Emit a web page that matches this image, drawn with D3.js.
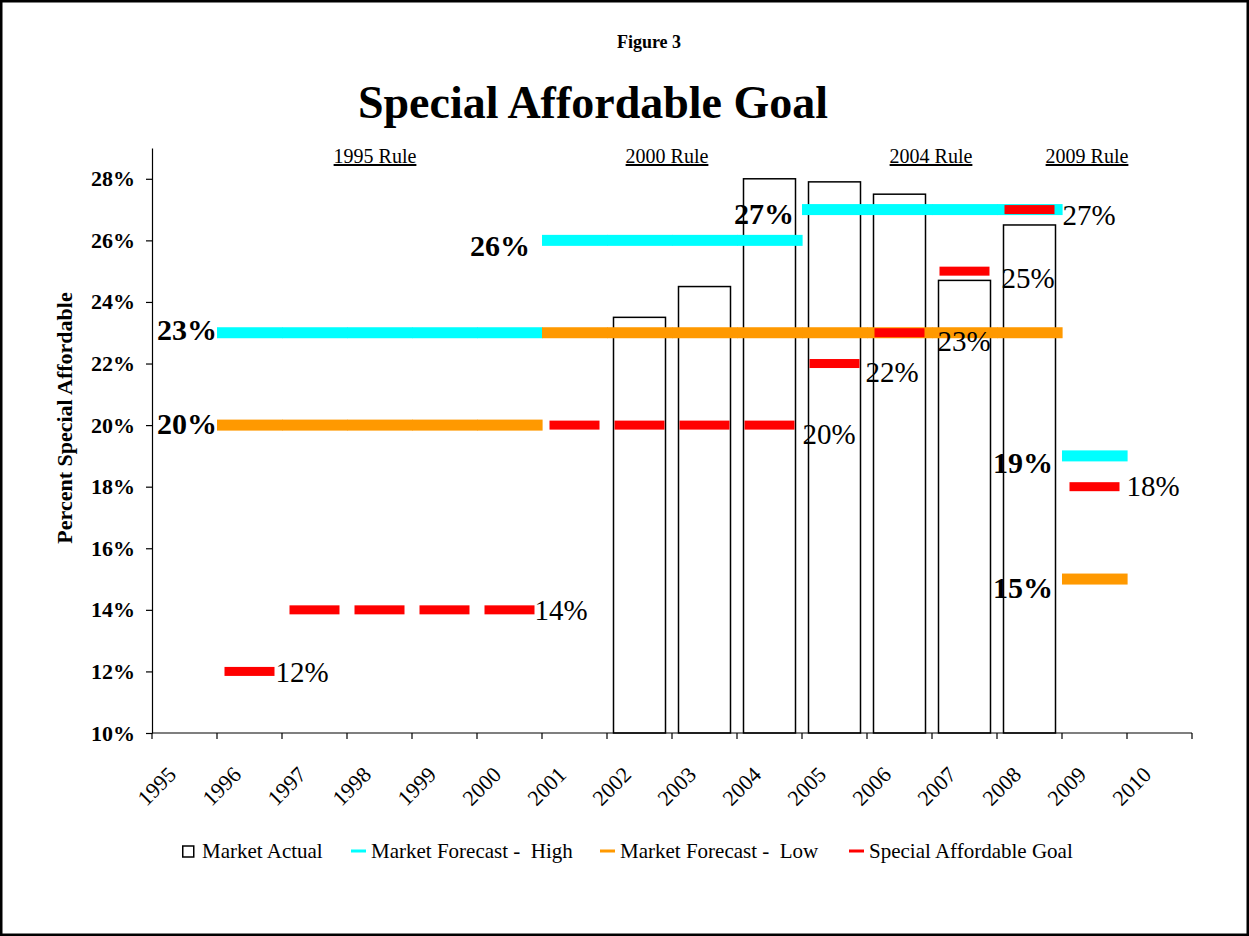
<!DOCTYPE html>
<html>
<head>
<meta charset="utf-8">
<script src="https://cdn.jsdelivr.net/npm/d3@7/dist/d3.min.js"></script>
<style>
  html, body { margin: 0; padding: 0; background: #fff; }
  svg { display: block; }
  text { font-family: "Liberation Serif", "Times New Roman", serif; fill: #000; }
</style>
</head>
<body>
<svg id="chart" width="1249" height="936"></svg>
<script>
// ---------------- DATA ----------------
const years = ["1995","1996","1997","1998","1999","2000","2001","2002","2003","2004","2005","2006","2007","2008","2009","2010"];
const marketActual = [null,null,null,null,null,null,null,23.5,24.5,28.0,27.9,27.5,24.7,26.5,null,null];
const forecastHigh = [null,23,23,23,23,23,26,26,26,26,27,27,27,27,19,null];
const forecastLow  = [null,20,20,20,20,20,23,23,23,23,23,23,23,23,15,null];
const goal         = [null,12,14,14,14,14,20,20,20,20,22,23,25,27,18,null];
const yTicks = [10,12,14,16,18,20,22,24,26,28];
const ruleLabels = ["1995 Rule","2000 Rule","2004 Rule","2009 Rule"];
const ruleYears  = ["1998","2002","2006","2009"];
const highLabelYears = ["1996","2001","2005","2009"];
const lowLabelYears  = ["1996","2009"];
const goalLabelYears = ["1996","2000","2004","2005","2006","2007","2008","2009"];
const legendNames = ["Market Actual","Market Forecast -  High","Market Forecast -  Low","Special Affordable Goal"];

// ---------------- LAYOUT ----------------
const W = 1249, H = 936;
const plot = {left: 152, right: 1192, top: 148, bottom: 733};
const colors = {high: "#00FFFF", low: "#FF9900", goal: "#FF0000"};
const highLabelOffsets = [[0,-3],[-12,5],[-8,4],[-9,7]];
const lowLabelOffsets  = [[0,-2],[-9,8]];
const goalLabelOffsets = [[26,1],[25,0],[33,9],[31,8],[38,8],[37,7],[33,5],[32,-1]];
const ruleOffsets = [-4.5, 27.5, 31.5, -7.5];

const svg = d3.select("#chart");
svg.append("rect").attr("x",1.25).attr("y",1.25).attr("width",W-2.5).attr("height",H-2.5)
  .attr("fill","#fff").attr("stroke","#000").attr("stroke-width",2.5);

const x = d3.scaleBand().domain(years).range([plot.left, plot.right]).padding(0);
const y = d3.scaleLinear().domain([10,29]).range([plot.bottom, plot.top]);
const bw = x.bandwidth();

// Titles
svg.append("text").attr("x",649).attr("y",48).attr("text-anchor","middle")
  .style("font-weight","bold").style("font-size","18px").text("Figure 3");
svg.append("text").attr("x",593).attr("y",118).attr("text-anchor","middle")
  .style("font-weight","bold").style("font-size","46px").text("Special Affordable Goal");

// Y axis title
svg.append("text").attr("transform","translate(72,418) rotate(-90)").attr("text-anchor","middle")
  .style("font-weight","bold").style("font-size","22px").text("Percent Special Affordable");

// Rule labels
svg.append("g").selectAll("text").data(ruleLabels).join("text")
  .attr("x",(d,i)=>x(ruleYears[i]) + bw/2 + ruleOffsets[i])
  .attr("y",163).attr("text-anchor","middle")
  .style("font-size","20px").style("text-decoration","underline").text(d=>d);

// Bars (market actual)
const barW = bw*0.8;
svg.append("g").selectAll("rect").data(years.map((yr,i)=>({yr, v: marketActual[i]})).filter(d=>d.v!=null))
  .join("rect")
  .attr("x",d=>x(d.yr)+(bw-barW)/2).attr("y",d=>y(d.v))
  .attr("width",barW).attr("height",d=>y(10)-y(d.v))
  .attr("fill","#fff").attr("stroke","#000").attr("stroke-width",1.5);

// Forecast bands (continuous per category)
function drawBand(values, color, thick) {
  svg.append("g").selectAll("rect").data(years.map((yr,i)=>({yr, v: values[i]})).filter(d=>d.v!=null))
    .join("rect")
    .attr("x",d=>x(d.yr)).attr("y",d=>y(d.v)-thick/2)
    .attr("width",bw+0.6).attr("height",thick).attr("fill",color);
}
drawBand(forecastHigh, colors.high, 11);
drawBand(forecastLow, colors.low, 11);

// Goal dashes
const dashW = 50;
svg.append("g").selectAll("rect").data(years.map((yr,i)=>({yr, v: goal[i]})).filter(d=>d.v!=null))
  .join("rect")
  .attr("x",d=>x(d.yr)+bw/2-dashW/2).attr("y",d=>y(d.v)-4.5)
  .attr("width",dashW).attr("height",9).attr("fill",colors.goal);

// Axes
const yAxis = d3.axisLeft(y).tickValues(yTicks).tickFormat(d=>d+"%").tickSize(6).tickSizeOuter(0).tickPadding(11);
const gy = svg.append("g").attr("transform",`translate(${plot.left},0)`).call(yAxis);
gy.selectAll("text").style("font-family","'Liberation Serif', serif").style("font-weight","bold").style("font-size","22px").attr("fill","#000");
gy.selectAll("line,path").attr("stroke","#000").attr("stroke-width",1.2);

const gx = svg.append("g");
gx.append("line").attr("x1",plot.left).attr("x2",plot.right).attr("y1",plot.bottom).attr("y2",plot.bottom)
  .attr("stroke","#000").attr("stroke-width",1.2);
gx.selectAll("line.tick").data(years.concat(["end"])).join("line").attr("class","tick")
  .attr("x1",d=>d==="end"?plot.right:x(d)).attr("x2",d=>d==="end"?plot.right:x(d))
  .attr("y1",plot.bottom).attr("y2",plot.bottom+6).attr("stroke","#000").attr("stroke-width",1.2);
gx.selectAll("text").data(years).join("text")
  .attr("transform",d=>`translate(${x(d)+bw/2-7},776) rotate(-45)`)
  .attr("text-anchor","end").style("font-size","22px").text(d=>d);

// Labels
function valAt(arr, yr){ return arr[years.indexOf(yr)]; }
const lab = svg.append("g");
highLabelYears.forEach((yr,i)=>{
  const v = valAt(forecastHigh, yr);
  lab.append("text").attr("x",x(yr)+highLabelOffsets[i][0]).attr("y",y(v)+highLabelOffsets[i][1]+10.5)
    .attr("text-anchor","end").style("font-weight","bold").style("font-size","30px").text(v+"%");
});
lowLabelYears.forEach((yr,i)=>{
  const v = valAt(forecastLow, yr);
  lab.append("text").attr("x",x(yr)+lowLabelOffsets[i][0]).attr("y",y(v)+lowLabelOffsets[i][1]+10.5)
    .attr("text-anchor","end").style("font-weight","bold").style("font-size","30px").text(v+"%");
});
goalLabelYears.forEach((yr,i)=>{
  const v = valAt(goal, yr);
  lab.append("text").attr("x",x(yr)+bw/2+goalLabelOffsets[i][0]).attr("y",y(v)+goalLabelOffsets[i][1]+10)
    .attr("text-anchor","start").style("font-size","29px").text(v+"%");
});

// Legend
const lg = svg.append("g");
const legendX = [182, 351, 600, 849];
const legendColors = [null, colors.high, colors.low, colors.goal];
legendNames.forEach((n,i)=>{
  if (i===0) {
    lg.append("rect").attr("x",legendX[i]+0.75).attr("y",846).attr("width",11).attr("height",11)
      .attr("fill","#fff").attr("stroke","#000").attr("stroke-width",1.5);
  } else {
    lg.append("rect").attr("x",legendX[i]).attr("y",849.5).attr("width",15).attr("height",3).attr("fill",legendColors[i]);
  }
  lg.append("text").attr("x",legendX[i]+20).attr("y",858).style("font-size","21px")
    .style("white-space","pre").text(n);
});
</script>
</body>
</html>
